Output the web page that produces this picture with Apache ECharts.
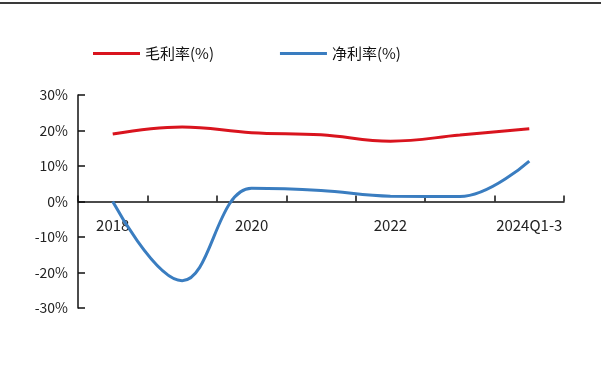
<!DOCTYPE html>
<html>
<head>
<meta charset="utf-8">
<script src="https://cdn.jsdelivr.net/npm/echarts@6/dist/echarts.min.js"></script>
<style>
	html, body { margin: 0; padding: 0; background: #fff; }
	#chart { width: 601px; height: 383px; }
</style>
</head>
<body>
<div id="chart"></div>
<script>
"use strict";

var years = ['2018', '2019', '2020', '2021', '2022', '2023', '2024Q1-3'];
var grossMargin = [19.0, 21.0, 19.4, 18.8, 17.0, 18.7, 20.5];
var netMargin = [0.0, -22.3, 3.7, 3.1, 1.5, 1.4, 11.4];
var seriesNames = ['毛利率(%)', '净利率(%)'];

var myChart = echarts.init(document.getElementById('chart'));
var font = '"Noto Sans CJK SC", "Liberation Sans", sans-serif';

// grid is 213px high, the zero line sits halfway
var gridTop = 95;
var gridBottom = 75;
var zeroOffset = -(383 - gridTop - gridBottom) / 2;

var option = {
	animation: false,
	graphic: [{
		type: 'line',
		shape: { x1: 0, y1: 3, x2: 601, y2: 3 },
		style: { stroke: '#3a3a3a', lineWidth: 2 }
	}],
	legend: {
		top: 41,
		left: 88,
		itemGap: 66,
		itemWidth: 47,
		itemHeight: 3,
		icon: 'rect',
		textStyle: { fontSize: 15, color: '#111', fontFamily: font },
		data: seriesNames
	},
	grid: { left: 78, right: 37, top: gridTop, bottom: gridBottom },
	xAxis: {
		type: 'category',
		data: years,
		boundaryGap: true,
		offset: zeroOffset,
		axisLine: { onZero: false, lineStyle: { color: '#111', width: 1.5 } },
		axisTick: { show: true, inside: true, length: 6, interval: 0, lineStyle: { color: '#111', width: 1.5 } },
		axisLabel: { interval: 1, margin: 16, fontSize: 15, color: '#222', fontFamily: font }
	},
	yAxis: {
		type: 'value',
		min: -30,
		max: 30,
		interval: 10,
		splitLine: { show: false },
		axisLine: { show: true, lineStyle: { color: '#111', width: 1.5 } },
		axisTick: { show: true, inside: true, length: 7, lineStyle: { color: '#111', width: 1.5 } },
		axisLabel: {
			margin: 10,
			fontSize: 14,
			color: '#222',
			fontFamily: font,
			formatter: function(v) { return v + '%'; }
		}
	},
	series: [{
		name: seriesNames[0],
		type: 'line',
		data: grossMargin,
		smooth: 0.4,
		symbol: 'none',
		itemStyle: { color: '#d9141e' },
		lineStyle: { color: '#d9141e', width: 3 }
	}, {
		name: seriesNames[1],
		type: 'line',
		data: netMargin,
		smooth: 0.4,
		symbol: 'none',
		itemStyle: { color: '#3a7dc0' },
		lineStyle: { color: '#3a7dc0', width: 3 }
	}]
};

myChart.setOption(option);
</script>
</body>
</html>
